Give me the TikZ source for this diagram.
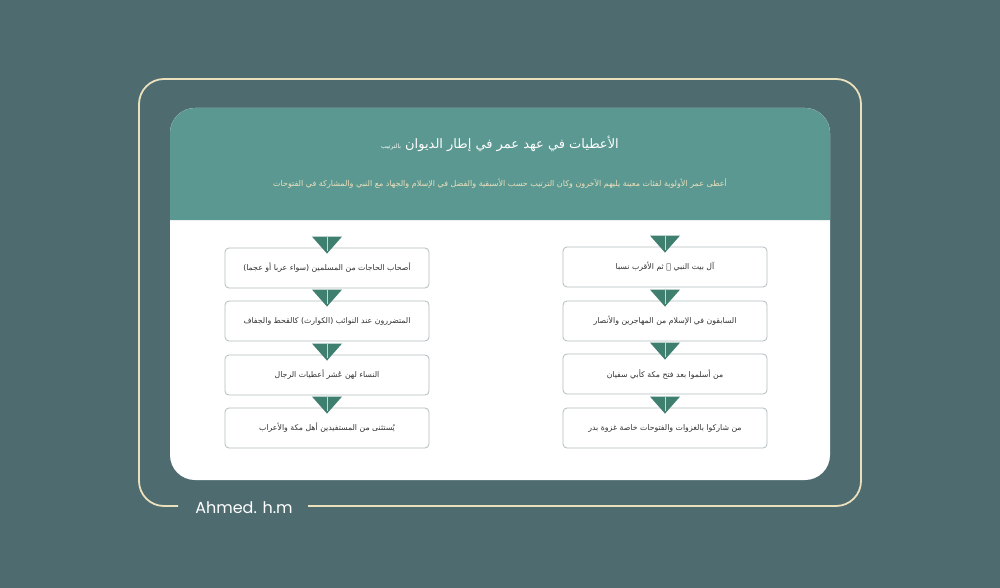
\documentclass[tikz,border=0pt]{standalone}
\usepackage{fontspec}
\setmainfont{DejaVu Sans}
\newfontfamily\arabicfont[Script=Arabic]{DejaVu Sans}
\newfontfamily\signfont{Poppins}
\TeXXeTstate=1
\definecolor{bgslate}{HTML}{4E6B70}
\definecolor{headteal}{HTML}{5B9891}
\definecolor{tridark}{HTML}{3F7F6F}
\definecolor{framecream}{HTML}{EAE0BC}
\definecolor{boxline}{HTML}{B4BCBF}
\definecolor{boxtext}{HTML}{333333}
\begin{document}
\begin{tikzpicture}[x=1pt, y=-1pt,
  itembox/.style={draw=boxline, line width=0.8pt, fill=white, rounded corners=4pt,
    minimum width=204pt, minimum height=40pt, text=boxtext,
    font=\arabicfont\fontsize{7.8}{9}\selectfont},
  tri/.style={fill=tridark}]%
\useasboundingbox (0,0) rectangle (1000,588);
\fill[bgslate] (0,0) rectangle (1000,588);
% outer frame with gap for the signature
\draw[framecream, line width=1.8pt, rounded corners=25pt]
  (308,506) -- (861,506) -- (861,79) -- (139,79) -- (139,506) -- (178,506);
\node[text=white, font=\signfont\fontsize{16}{18}\selectfont] (sign) at (244,508) {Ahmed. h.m};
% card
\fill[white, rounded corners=25pt] (170,108) rectangle (830,480);
\fill[headteal] (170,220) {[rounded corners=25pt] -- (170,108) -- (830,108)} -- (830,220) -- cycle;
\node[text=white, font=\arabicfont\fontsize{13}{15}\selectfont] (title) at (500,144)
  {\beginR الأعطيات في عهد عمر في إطار الديوان {\fontsize{6}{7}\selectfont بالترتيب}\endR};
\node[text=framecream, font=\arabicfont\fontsize{8}{10}\selectfont] (subtitle) at (500,183)
  {\beginR أعطى عمر الأولوية لفئات معينة يليهم الآخرون وكان الترتيب حسب الأسبقية والفضل في الإسلام والجهاد مع النبي والمشاركة في الفتوحات\endR};
% right column
\node[itembox] (r1) at (665,267) {\beginR آل بيت النبي ﷺ ثم الأقرب نسبا\endR};
\node[itembox] (r2) at (665,321) {\beginR السابقون في الإسلام من المهاجرين والأنصار\endR};
\node[itembox] (r3) at (665,374) {\beginR من أسلموا بعد فتح مكة كأبي سفيان\endR};
\node[itembox] (r4) at (665,428) {\beginR من شاركوا بالغزوات والفتوحات خاصة غزوة بدر\endR};
% left column
\node[itembox] (l1) at (327,268) {\beginR أصحاب الحاجات من المسلمين (سواء عربا أو عجما)\endR};
\node[itembox] (l2) at (327,321) {\beginR المتضررون عند النوائب (الكوارث) كالقحط والجفاف\endR};
\node[itembox] (l3) at (327,375) {\beginR النساء لهن عُشر أعطيات الرجال\endR};
\node[itembox] (l4) at (327,428) {\beginR يُستثنى من المستفيدين أهل مكة والأعراب\endR};
% markers
\foreach \b in {r1,r2,r3,r4,l1,l2,l3,l4} {
  \fill[tri] ([shift={(-15pt,11pt)}]\b.north) -- ([shift={(15pt,11pt)}]\b.north)
    -- ([yshift=-6pt]\b.north) -- cycle;
  \draw[white!70!tridark, line width=1pt] ([yshift=11pt]\b.north) -- ([yshift=-3pt]\b.north);
}
\end{tikzpicture}
\end{document}
